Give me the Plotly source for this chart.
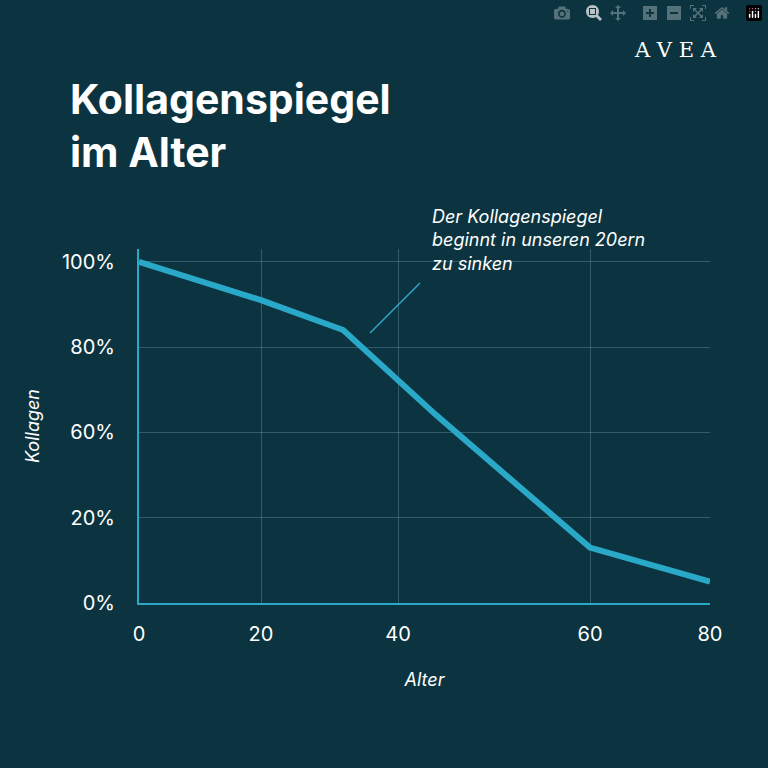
import numpy as np
import plotly.graph_objects as go

ages = [0, 20, 32, 44, 60, 80]
collagen = [100, 91, 84, 64, 13, 5]
x_ticks = [0, 20, 40, 60, 80]
y_ticks = [0, 20, 60, 80, 100]
y_labels = ["0%", "20%", "60%", "80%", "100%"]

# the reference uses evenly spaced ticks with uneven values
x_slot = [0, 122/571*4, 259/571*4, 451/571*4, 4]
y_slot = [0, 1, 2, 3, 4]
xd = np.interp(ages, x_ticks, x_slot)
yd = np.interp(collagen, y_ticks, y_slot)

bg = "#0c3440"
fig = go.Figure()
fig.add_trace(go.Scatter(x=xd, y=yd, mode="lines",
                         line=dict(color="#2aa8c8", width=6), hoverinfo="skip"))
fig.update_layout(
    width=768, height=768, paper_bgcolor=bg, plot_bgcolor=bg,
    margin=dict(l=139, r=58, t=249, b=165), showlegend=False,
    font=dict(family="Inter, Lato", color="white"),
    xaxis=dict(range=[0, 4], tickvals=x_slot, ticktext=[str(v) for v in x_ticks],
               showgrid=True, gridcolor="rgba(120,170,180,0.35)", zeroline=False,
               showline=True, linecolor="#2aa8c8", linewidth=2,
               tickfont=dict(size=20), ticks="", ticklabelstandoff=12,
               title=dict(text="<i>Alter</i>", font=dict(size=18), standoff=28)),
    yaxis=dict(range=[0, 4.15], tickvals=y_slot, ticktext=y_labels,
               showgrid=True, gridcolor="rgba(120,170,180,0.35)", zeroline=False,
               showline=True, linecolor="#2aa8c8", linewidth=2,
               tickfont=dict(size=20), ticks="", ticklabelstandoff=18,
               title=dict(text="<i>Kollagen</i>", font=dict(size=18), standoff=18)),
)
fig.add_annotation(text="<b>Kollagenspiegel<br>im Alter</b>", xref="paper", yref="paper",
                   x=(68-139)/571, y=(603-72)/354, xanchor="left", yanchor="top",
                   align="left", showarrow=False, font=dict(size=41, color="white"))
fig.add_annotation(text="A V E A", xref="paper", yref="paper",
                   x=(719-139)/571, y=(603-50)/354, xanchor="right", yanchor="middle",
                   showarrow=False, font=dict(size=21, color="white", family="DejaVu Serif"))
fig.add_annotation(text="<i>Der Kollagenspiegel<br>beginnt in unseren 20ern<br>zu sinken</i>",
                   xref="paper", yref="paper", x=(430-139)/571, y=(603-204)/354,
                   xanchor="left", yanchor="top", align="left", showarrow=False,
                   font=dict(size=18, color="white"))
fig.add_shape(type="line", xref="paper", yref="paper",
              x0=(370-139)/571, y0=(603-333)/354, x1=(420-139)/571, y1=(603-283)/354,
              line=dict(color="#2aa8c8", width=1.5))
fig.write_html("out.html")
with open("out.html", encoding="utf-8") as f:
    html = f.read()
html = html.replace("<head>", "<head><style>html,body{margin:0;padding:0;background:#0c3440;}</style>", 1)
with open("out.html", "w", encoding="utf-8") as f:
    f.write(html)
